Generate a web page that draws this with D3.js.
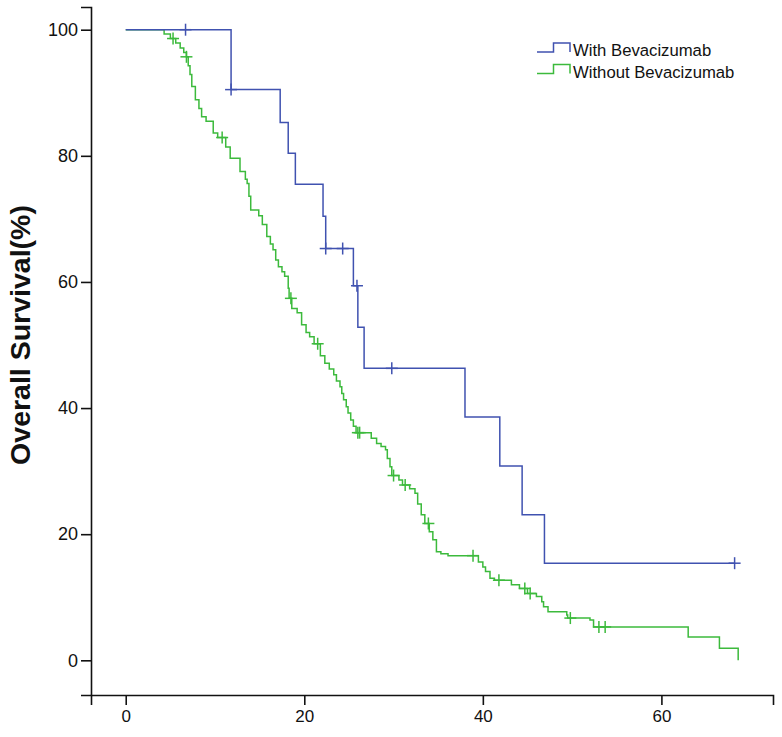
<!DOCTYPE html>
<html lang="en">
<head>
    <meta charset="UTF-8">
    <title>Overall Survival</title>
    <script src="https://d3js.org/d3.v7.min.js"></script>
    <style>
        body, html {
            margin: 0;
            padding: 0;
            background: white;
        }
        text {
            font-family: 'Liberation Sans', Arial, sans-serif;
        }
    </style>
</head>
<body>
    <script>
        'use strict'

        // series names
        const seriesNames = ['With Bevacizumab', 'Without Bevacizumab']

        // with bevacizumab: event times (months) and survival (%) after each drop
        const blueTimes = [11.8, 17.3, 18.2, 19.0, 22.1, 22.4, 25.5, 26.0, 26.7, 38.0, 41.9, 44.4, 46.9]
        const blueSurv = [90.5, 85.3, 80.4, 75.5, 70.4, 65.3, 59.4, 52.8, 46.3, 38.6, 30.8, 23.1, 15.4]
        const blueCensor = [6.7, 11.8, 22.4, 24.3, 25.9, 29.8, 68.2]
        const blueEnd = 68.2

        // without bevacizumab
        const greenTimes = [4.3, 5.0, 5.6, 6.1, 6.5, 6.8, 7.0, 7.2, 7.4, 7.8, 8.2, 8.5, 9.0, 9.8, 10.3,
            11.2, 11.7, 12.8, 13.4, 13.6, 13.8, 14.0, 14.9, 15.3, 15.8, 16.2, 16.5, 16.8, 17.1, 17.5,
            17.8, 18.2, 18.3, 18.6, 19.2, 19.7, 20.2, 20.6, 21.1, 21.8, 22.3, 22.8, 23.3, 23.6, 24.0,
            24.2, 24.4, 24.7, 24.9, 25.2, 25.5, 25.8, 27.5, 28.1, 28.6, 29.1, 29.3, 29.6, 29.8, 30.6,
            31.0, 31.8, 32.4, 32.7, 33.1, 33.5, 34.0, 34.4, 34.8, 35.3, 36.1, 39.5, 40.0, 40.3, 40.8,
            41.3, 43.2, 44.1, 45.0, 46.0, 46.6, 46.8, 47.3, 49.4, 49.5, 52.0, 52.4, 63.0, 66.5, 68.6]
        const greenSurv = [99.3, 98.6, 97.9, 97.1, 96.4, 95.7, 94.3, 92.9, 91.0, 88.9, 87.5, 86.2, 85.5, 83.6, 82.9,
            81.4, 79.6, 77.5, 76.3, 75.6, 73.6, 71.4, 70.5, 69.1, 67.2, 66.0, 65.1, 63.5, 62.4, 61.6,
            60.9, 59.0, 57.4, 55.8, 55.1, 53.2, 52.0, 51.3, 50.2, 48.3, 47.1, 46.2, 45.3, 44.3, 43.4,
            42.3, 41.3, 40.2, 39.2, 38.1, 37.1, 36.1, 35.2, 34.4, 33.9, 33.4, 32.0, 30.7, 29.3, 28.6,
            27.8, 27.2, 26.5, 24.8, 23.1, 21.7, 20.4, 19.1, 17.2, 16.9, 16.6, 15.6, 14.8, 14.1, 13.0,
            12.7, 12.0, 11.4, 10.6, 10.1, 9.3, 8.5, 7.7, 7.2, 6.7, 6.4, 5.3, 3.7, 1.9, 0]
        const greenCensor = [5.3, 6.8, 10.8, 18.5, 21.5, 26.0, 26.2, 30.0, 31.3, 33.9, 38.9, 41.8,
            44.7, 45.3, 49.8, 53.0, 53.7]
        const greenEnd = 68.6

        const xTicks = [0, 20, 40, 60]
        const yTicks = [0, 20, 40, 60, 80, 100]

        const colors = ['#4052b0', '#3cba3c']

        const W = 782, H = 737

        const svg = d3.select('body')
            .append('svg')
            .attr('width', W)
            .attr('height', H)

        const x = d3.scaleLinear()
            .domain([-3.89, 72.5])
            .range([91, 773])

        const y = d3.scaleLinear()
            .domain([-5.5, 103.6])
            .range([695, 7])

        // axes
        const xAxis = d3.axisBottom(x)
            .tickValues(xTicks)
            .tickSizeOuter(0)
            .tickSize(10)
            .tickPadding(5)

        const yAxis = d3.axisLeft(y)
            .tickValues(yTicks)
            .tickSizeOuter(0)
            .tickSize(10)
            .tickPadding(3)

        const gx = svg.append('g')
            .attr('transform', 'translate(0, 695)')
            .call(xAxis)
        gx.selectAll('text').style('font-size', '17px').attr('fill', '#111')

        const gy = svg.append('g')
            .attr('transform', 'translate(91, 0)')
            .call(yAxis)
        gy.selectAll('text').style('font-size', '18px').attr('fill', '#111')

        svg.selectAll('.domain').attr('stroke', '#111').attr('stroke-width', 1.6)
        svg.selectAll('.tick line').attr('stroke', '#111').attr('stroke-width', 1.6)

        svg.append('text')
            .text('Overall Survival(%)')
            .attr('transform', `translate(30, 335) rotate(-90)`)
            .attr('text-anchor', 'middle')
            .style('font-size', '28.5px')
            .style('font-weight', 'bold')
            .attr('fill', '#111')

        // step curves
        function buildPoints(times, surv, end) {
            const pts = [[0, 100]]
            times.forEach((t, i) => pts.push([t, surv[i]]))
            if (end > times[times.length - 1]) pts.push([end, surv[surv.length - 1]])
            return pts
        }

        function survAt(times, surv, t) {
            let s = 100
            times.forEach((tt, i) => { if (tt <= t) s = surv[i] })
            return s
        }

        const line = d3.line()
            .x(d => x(d[0]))
            .y(d => y(d[1]))
            .curve(d3.curveStepAfter)

        const series = [
            { times: greenTimes, surv: greenSurv, censor: greenCensor, end: greenEnd, color: colors[1] },
            { times: blueTimes, surv: blueSurv, censor: blueCensor, end: blueEnd, color: colors[0] }
        ]

        series.forEach(s => {
            svg.append('path')
                .datum(buildPoints(s.times, s.surv, s.end))
                .attr('d', line)
                .attr('fill', 'none')
                .attr('stroke', s.color)
                .attr('stroke-width', 1.5)

            const g = svg.append('g')
            s.censor.forEach(c => {
                const cx = x(c), cy = y(survAt(s.times, s.surv, c))
                g.append('line')
                    .attr('x1', cx).attr('x2', cx)
                    .attr('y1', cy - 6).attr('y2', cy + 6)
                    .attr('stroke', s.color).attr('stroke-width', 1.5)
                g.append('line')
                    .attr('x1', cx - 6).attr('x2', cx + 6)
                    .attr('y1', cy).attr('y2', cy)
                    .attr('stroke', s.color).attr('stroke-width', 1.5)
            })
        })

        // legend
        const legend = svg.append('g')
            .attr('transform', 'translate(537, 52)')

        seriesNames.forEach((name, i) => {
            const row = legend.append('g')
                .attr('transform', `translate(0, ${i * 21.5})`)
            row.append('path')
                .attr('d', 'M0,0 H16.5 V-9 H33 V0')
                .attr('fill', 'none')
                .attr('stroke', colors[i])
                .attr('stroke-width', 1.5)
            row.append('text')
                .text(name)
                .attr('x', 36)
                .attr('y', 4)
                .style('font-size', '16.7px')
                .attr('fill', '#111')
        })
    </script>
</body>
</html>
